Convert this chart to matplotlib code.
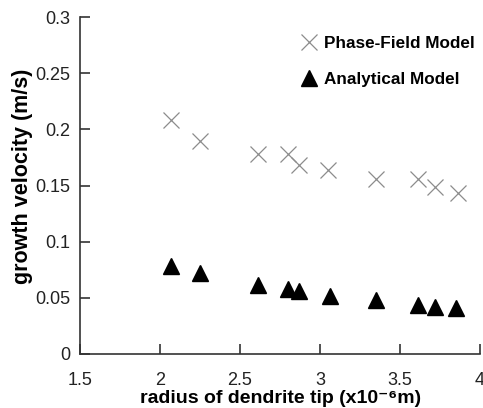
import matplotlib
matplotlib.use("Agg")
import matplotlib.pyplot as plt

plt.rcParams['font.family'] = ['Liberation Sans', 'DejaVu Sans']

radius_pf = [2.07, 2.25, 2.61, 2.80, 2.87, 3.05, 3.35, 3.61, 3.72, 3.86]
velocity_pf = [0.208, 0.190, 0.178, 0.178, 0.168, 0.164, 0.156, 0.156, 0.149, 0.143]
radius_an = [2.07, 2.25, 2.61, 2.80, 2.87, 3.06, 3.35, 3.61, 3.72, 3.85]
velocity_an = [0.078, 0.072, 0.061, 0.058, 0.056, 0.052, 0.048, 0.044, 0.042, 0.041]
xticks = [1.5, 2, 2.5, 3, 3.5, 4]
yticks = [0, 0.05, 0.1, 0.15, 0.2, 0.25, 0.3]

fig = plt.figure(figsize=(4.83, 4.08), dpi=100)
ax = fig.add_axes([80/483, 54/408, 400/483, 337/408])
ax.plot(radius_pf, velocity_pf, linestyle='none', marker='x', markersize=12,
        markeredgewidth=0.9, color='#8c8c8c', label='Phase-Field Model')
ax.plot(radius_an, velocity_an, linestyle='none', marker='^', markersize=12,
        color='black', label='Analytical Model')
ax.set_xlim(1.5, 4)
ax.set_ylim(0, 0.3)
ax.set_xticks(xticks)
ax.set_xticklabels([f'{t:g}' for t in xticks])
ax.set_yticks(yticks)
ax.set_yticklabels([f'{t:g}' for t in yticks])
for s in ['top', 'right']:
    ax.spines[s].set_visible(False)
for s in ['left', 'bottom']:
    ax.spines[s].set_color('#333333')
    ax.spines[s].set_linewidth(1.2)
ax.tick_params(direction='in', length=7, width=1.2, color='#333333',
               labelsize=13, labelcolor='#222222')
ax.tick_params(axis='x', pad=13)
ax.tick_params(axis='y', pad=7)
ax.set_xlabel('radius of dendrite tip (x10⁻⁶m)', fontsize=14, fontweight='bold')
ax.set_ylabel('growth velocity (m/s)', fontsize=15.5, fontweight='bold')
ax.xaxis.set_label_coords(0.501, -0.108)
ax.yaxis.set_label_coords(-0.1175, 0.527)
leg = ax.legend(loc='upper right', bbox_to_anchor=(1.025, 0.99), frameon=False,
                handletextpad=0.1, labelspacing=1.25, handlelength=1.5,
                prop={'weight': 'bold', 'size': 12.3})
fig.savefig('out.png', dpi=100)
